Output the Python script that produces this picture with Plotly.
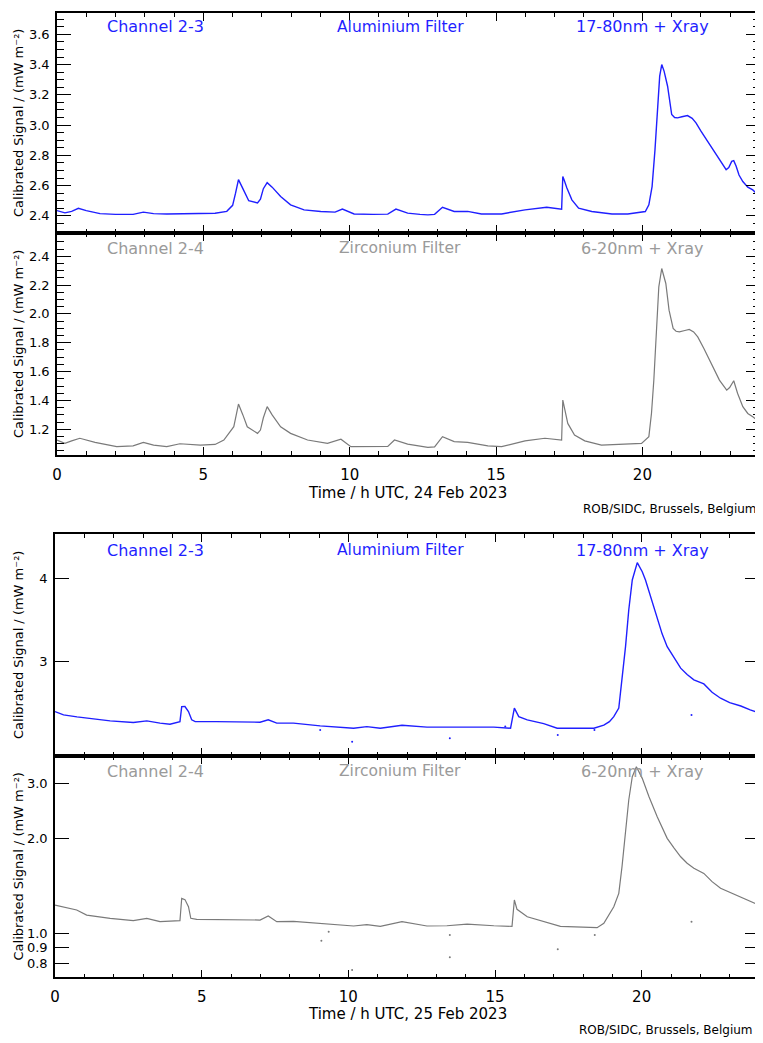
import plotly.graph_objects as go

# ---------------- DATA ----------------
# 24 Feb 2023, Channel 2-3 (Aluminium filter)
t_al_24 = [0.0, 0.27, 0.5, 0.73, 1.0, 1.47, 2.0, 2.6, 2.95, 3.3, 3.75, 4.2, 4.9, 5.4, 5.8, 6.0, 6.1, 6.2, 6.35, 6.55, 6.85, 6.95, 7.05, 7.18, 7.35, 7.64, 7.98, 8.44, 9.01, 9.5, 9.75, 10.15, 10.8, 11.3, 11.58, 11.98, 12.4, 12.67, 12.9, 13.17, 13.57, 14.03, 14.5, 15.19, 15.99, 16.73, 17.24,
            17.28, 17.32, 17.42, 17.59, 17.82, 18.27, 18.96, 19.5, 20.1, 20.22, 20.33, 20.43, 20.51, 20.59, 20.66, 20.74, 20.86, 20.95, 21.0, 21.1, 21.2, 21.35, 21.54, 21.7, 21.83, 22.0, 22.23, 22.45, 22.63, 22.86, 22.95, 23.05, 23.12, 23.2, 23.3, 23.43, 23.6, 23.77, 24.0]
v_al_24 = [2.435, 2.42, 2.43, 2.45, 2.435, 2.415, 2.41, 2.41, 2.425, 2.415, 2.413, 2.415, 2.415, 2.418, 2.43, 2.47, 2.55, 2.64, 2.58, 2.5, 2.486, 2.51, 2.58, 2.62, 2.59, 2.528, 2.473, 2.44, 2.429, 2.425, 2.445, 2.413, 2.41, 2.412, 2.445, 2.418, 2.41, 2.407, 2.41, 2.457, 2.429, 2.43, 2.413, 2.413, 2.44, 2.457, 2.445,
            2.66, 2.64, 2.584, 2.506, 2.451, 2.429, 2.413, 2.413, 2.429, 2.473, 2.594, 2.838, 3.103, 3.324, 3.40, 3.357, 3.257, 3.12, 3.07, 3.05, 3.048, 3.055, 3.063, 3.045, 3.015, 2.96, 2.893, 2.83, 2.771, 2.705, 2.72, 2.76, 2.765, 2.73, 2.67, 2.627, 2.59, 2.572, 2.528]

# 24 Feb 2023, Channel 2-4 (Zirconium filter)
t_zr_24 = [0.0, 0.27, 0.5, 0.78, 1.3, 2.04, 2.6, 2.95, 3.3, 3.75, 4.2, 4.9, 5.4, 5.7, 6.04, 6.2, 6.35, 6.5, 6.85, 6.95, 7.05, 7.18, 7.35, 7.64, 7.98, 8.56, 9.24, 9.7, 10.04, 10.8, 11.3, 11.53, 11.98, 12.67, 12.9, 13.17, 13.57, 14.03, 14.72, 15.19, 15.99, 16.67, 17.24,
           17.28, 17.36, 17.45, 17.68, 18.03, 18.6, 19.3, 19.97, 20.22, 20.31, 20.39, 20.47, 20.56, 20.66, 20.8, 20.91, 21.05, 21.15, 21.26, 21.45, 21.6, 21.75, 21.89, 22.1, 22.29, 22.45, 22.63, 22.88, 22.98, 23.12, 23.25, 23.43, 23.6, 23.77, 24.0]
v_zr_24 = [1.126, 1.103, 1.12, 1.138, 1.11, 1.08, 1.085, 1.11, 1.09, 1.08, 1.10, 1.09, 1.095, 1.126, 1.218, 1.375, 1.3, 1.218, 1.172, 1.195, 1.28, 1.357, 1.3, 1.218, 1.172, 1.126, 1.103, 1.131, 1.08, 1.082, 1.082, 1.126, 1.098, 1.075, 1.078, 1.149, 1.115, 1.11, 1.085, 1.08, 1.12, 1.138, 1.126,
           1.403, 1.334, 1.241, 1.16, 1.12, 1.09, 1.095, 1.103, 1.149, 1.311, 1.541, 1.818, 2.188, 2.315, 2.211, 2.026, 1.899, 1.88, 1.876, 1.885, 1.892, 1.875, 1.841, 1.76, 1.68, 1.61, 1.541, 1.472, 1.49, 1.537, 1.45, 1.357, 1.31, 1.287, 1.253]

# 25 Feb 2023, Channel 2-3 (Aluminium filter)
t_al_25 = [0.0, 0.29, 0.75, 1.53, 1.88, 2.67, 3.13, 3.58, 3.92, 4.26, 4.32, 4.43, 4.55, 4.66, 4.78, 5.5, 6.2, 6.99, 7.27, 7.56, 8.13, 9.04, 10.18, 10.63, 11.09, 11.83, 12.68, 13.36, 14.05, 14.96, 15.53,
           15.66, 15.81, 16.1, 16.66, 17.12, 18.37, 18.71, 18.9, 19.05, 19.22, 19.33, 19.45, 19.56, 19.68, 19.85, 20.02, 20.13, 20.25, 20.36, 20.53, 20.7, 20.87, 21.1, 21.33, 21.55, 21.78, 22.12, 22.4, 22.69, 23.0, 23.38, 23.7, 24.0]
v_al_25 = [2.526, 2.497, 2.48, 2.455, 2.446, 2.432, 2.446, 2.427, 2.418, 2.44, 2.569, 2.57, 2.526, 2.455, 2.44, 2.44, 2.438, 2.435, 2.455, 2.427, 2.427, 2.404, 2.385, 2.398, 2.385, 2.41, 2.394, 2.394, 2.398, 2.394, 2.385,
           2.556, 2.482, 2.455, 2.423, 2.385, 2.385, 2.41, 2.44, 2.482, 2.556, 2.818, 3.16, 3.586, 3.978, 4.222, 4.093, 3.978, 3.82, 3.669, 3.464, 3.3, 3.16, 3.04, 2.934, 2.87, 2.818, 2.779, 2.7, 2.645, 2.605, 2.575, 2.54, 2.516]
t_al_25_out = [9.04, 10.13, 13.46, 15.35, 17.14, 18.39, 21.7]
v_al_25_out = [2.37, 2.277, 2.304, 2.40, 2.33, 2.37, 2.497]

# 25 Feb 2023, Channel 2-4 (Zirconium filter)
t_zr_25 = [0.0, 0.74, 1.08, 1.88, 2.67, 3.13, 3.58, 4.26, 4.32, 4.43, 4.55, 4.63, 4.83, 5.5, 6.2, 6.99, 7.27, 7.56, 8.13, 9.04, 10.18, 10.63, 11.09, 11.83, 12.68, 13.36, 14.05, 14.96, 15.58,
           15.66, 15.75, 16.1, 16.66, 17.23, 18.48, 18.71, 19.05, 19.22, 19.33, 19.45, 19.56, 19.68, 19.82, 20.02, 20.25, 20.53, 20.7, 20.87, 21.1, 21.33, 21.55, 21.78, 22.12, 22.4, 22.69, 23.0, 23.38, 23.7, 24.0]
v_zr_25 = [1.23, 1.186, 1.143, 1.116, 1.097, 1.116, 1.089, 1.097, 1.292, 1.28, 1.215, 1.116, 1.108, 1.105, 1.102, 1.102, 1.135, 1.089, 1.092, 1.076, 1.055, 1.065, 1.052, 1.089, 1.055, 1.057, 1.07, 1.057, 1.052,
           1.276, 1.192, 1.129, 1.089, 1.052, 1.042, 1.076, 1.215, 1.34, 1.629, 2.08, 2.655, 3.148, 3.388, 3.111, 2.72, 2.349, 2.16, 2.005, 1.87, 1.752, 1.67, 1.61, 1.551, 1.46, 1.39, 1.35, 1.307, 1.27, 1.23]
t_zr_25_out = [9.08, 9.33, 10.13, 13.46, 13.46, 17.14, 18.4, 21.7]
v_zr_25_out = [0.947, 1.012, 0.764, 0.988, 0.839, 0.889, 0.988, 1.089]

x_ticks = [0, 5, 10, 15, 20]
x_tick_labels = ["0", "5", "10", "15", "20"]
al_24_ticks = [2.4, 2.6, 2.8, 3.0, 3.2, 3.4, 3.6]
zr_24_ticks = [1.2, 1.4, 1.6, 1.8, 2.0, 2.2, 2.4]
al_25_ticks = [3, 4]
zr_25_ticks = [0.8, 0.9, 1.0, 2.0, 3.0]
zr_25_tick_labels = ["0.8", "0.9", "1.0", "2.0", "3.0"]

# ---------------- FIGURE ----------------
OFF = 8                      # page body margin in the browser
W, H = 763 - OFF, 1043 - OFF
BLUE = "#1f1fff"
GRAY = "#7a7a7a"
TXTGRAY = "#9a9a9a"
FONT = "DejaVu Sans"

def py(p):
    return 1 - (p - OFF) / H

def px(p):
    return (p - OFF) / W

fig = go.Figure()

fig.add_trace(go.Scatter(x=t_al_24, y=v_al_24, mode="lines", line=dict(color=BLUE, width=1.4),
                         xaxis="x", yaxis="y", showlegend=False))
fig.add_trace(go.Scatter(x=t_zr_24, y=v_zr_24, mode="lines", line=dict(color=GRAY, width=1.2),
                         xaxis="x2", yaxis="y2", showlegend=False))
fig.add_trace(go.Scatter(x=t_al_25, y=v_al_25, mode="lines", line=dict(color=BLUE, width=1.4),
                         xaxis="x3", yaxis="y3", showlegend=False))
fig.add_trace(go.Scatter(x=t_al_25_out, y=v_al_25_out, mode="markers", marker=dict(color=BLUE, size=2),
                         xaxis="x3", yaxis="y3", showlegend=False))
fig.add_trace(go.Scatter(x=t_zr_25, y=v_zr_25, mode="lines", line=dict(color=GRAY, width=1.2),
                         xaxis="x4", yaxis="y4", showlegend=False))
fig.add_trace(go.Scatter(x=t_zr_25_out, y=v_zr_25_out, mode="markers", marker=dict(color=GRAY, size=2),
                         xaxis="x4", yaxis="y4", showlegend=False))

top_x = [px(57), px(759.5)]
bot_x = [px(55), px(759)]
d1 = [py(233), py(12.7)]
d2 = [py(455), py(233)]
d3 = [py(755.7), py(534)]
d4 = [py(977.3), py(755.7)]

common_axis = dict(showline=True, linecolor="black", linewidth=1.6, mirror="allticks",
                   ticks="inside", tickcolor="black", tickwidth=1.3, showgrid=False,
                   zeroline=False)

def xaxis(anchor, domain, labels):
    d = dict(common_axis)
    d.update(anchor=anchor, domain=domain, range=[0, 24], tickmode="array",
             tickvals=x_ticks, ticktext=x_tick_labels, ticklen=8, showticklabels=labels,
             ticklabelstandoff=5, tickfont=dict(family=FONT, size=15, color="black"),
             minor=dict(ticks="inside", dtick=1, ticklen=4, tickcolor="black", tickwidth=1.2, showgrid=False))
    return d

def yaxis_lin(anchor, domain, rng, ticks):
    d = dict(common_axis)
    d.update(anchor=anchor, domain=domain, range=rng, tickmode="array", tickvals=ticks,
             ticktext=["%.1f" % v for v in ticks], ticklen=14, ticklabelstandoff=3,
             tickfont=dict(family=FONT, size=13, color="black"),
             minor=dict(ticks="inside", dtick=0.05, ticklen=7, tickcolor="black", tickwidth=1.2, showgrid=False))
    return d

def yaxis_log(anchor, domain, rng, ticks, labels):
    d = dict(common_axis)
    d.update(anchor=anchor, domain=domain, type="log", range=rng, tickmode="array", tickvals=ticks,
             ticktext=labels, ticklen=14, ticklabelstandoff=3,
             tickfont=dict(family=FONT, size=13, color="black"))
    return d

fig.update_layout(
    width=W, height=H,
    margin=dict(l=0, r=0, t=0, b=0, autoexpand=False),
    paper_bgcolor="white", plot_bgcolor="white",
    font=dict(family=FONT),
    xaxis=xaxis("y", top_x, False),
    xaxis2=xaxis("y2", top_x, True),
    xaxis3=xaxis("y3", bot_x, False),
    xaxis4=xaxis("y4", bot_x, True),
    yaxis=yaxis_lin("x", d1, [2.287, 3.743], al_24_ticks),
    yaxis2=yaxis_lin("x2", d2, [1.022, 2.561], zr_24_ticks),
    yaxis3=yaxis_log("x3", d3, [0.3363, 0.6685], al_25_ticks, ["3", "4"]),
    yaxis4=yaxis_log("x4", d4, [-0.14, 0.565], zr_25_ticks, zr_25_tick_labels),
)

ann = []
def label(text, x, y, color, size=15, xanchor="center", angle=0):
    ann.append(dict(text=text, x=px(x), y=py(y), xref="paper", yref="paper", showarrow=False,
                    xanchor=xanchor, yanchor="middle", textangle=angle,
                    font=dict(family=FONT, size=size, color=color)))

for (ytxt, color, texts) in [
        (27, BLUE, ["Channel 2-3", "Aluminium Filter", "17-80nm + Xray"]),
        (248, TXTGRAY, ["Channel 2-4", "Zirconium Filter", "6-20nm + Xray"]),
        (550, BLUE, ["Channel 2-3", "Aluminium Filter", "17-80nm + Xray"]),
        (771, TXTGRAY, ["Channel 2-4", "Zirconium Filter", "6-20nm + Xray"])]:
    label(texts[0], 155, ytxt, color, size=16)
    label(texts[1], 400, ytxt, color, size=15.5)
    label(texts[2], 642, ytxt, color, size=16)

ytitle = "Calibrated Signal / (mW m⁻²)"
for yc in [123, 344, 645, 866.5]:
    label(ytitle, 18, yc, "black", size=13, angle=-90)

label("Time / h UTC, 24 Feb 2023", 407, 493, "black", size=15)
label("Time / h UTC, 25 Feb 2023", 407, 1014, "black", size=15)
label("ROB/SIDC, Brussels, Belgium", 581, 509, "black", size=12, xanchor="left")
label("ROB/SIDC, Brussels, Belgium", 577, 1030, "black", size=12, xanchor="left")

fig.update_layout(annotations=ann)

fig.write_html("out.html")
